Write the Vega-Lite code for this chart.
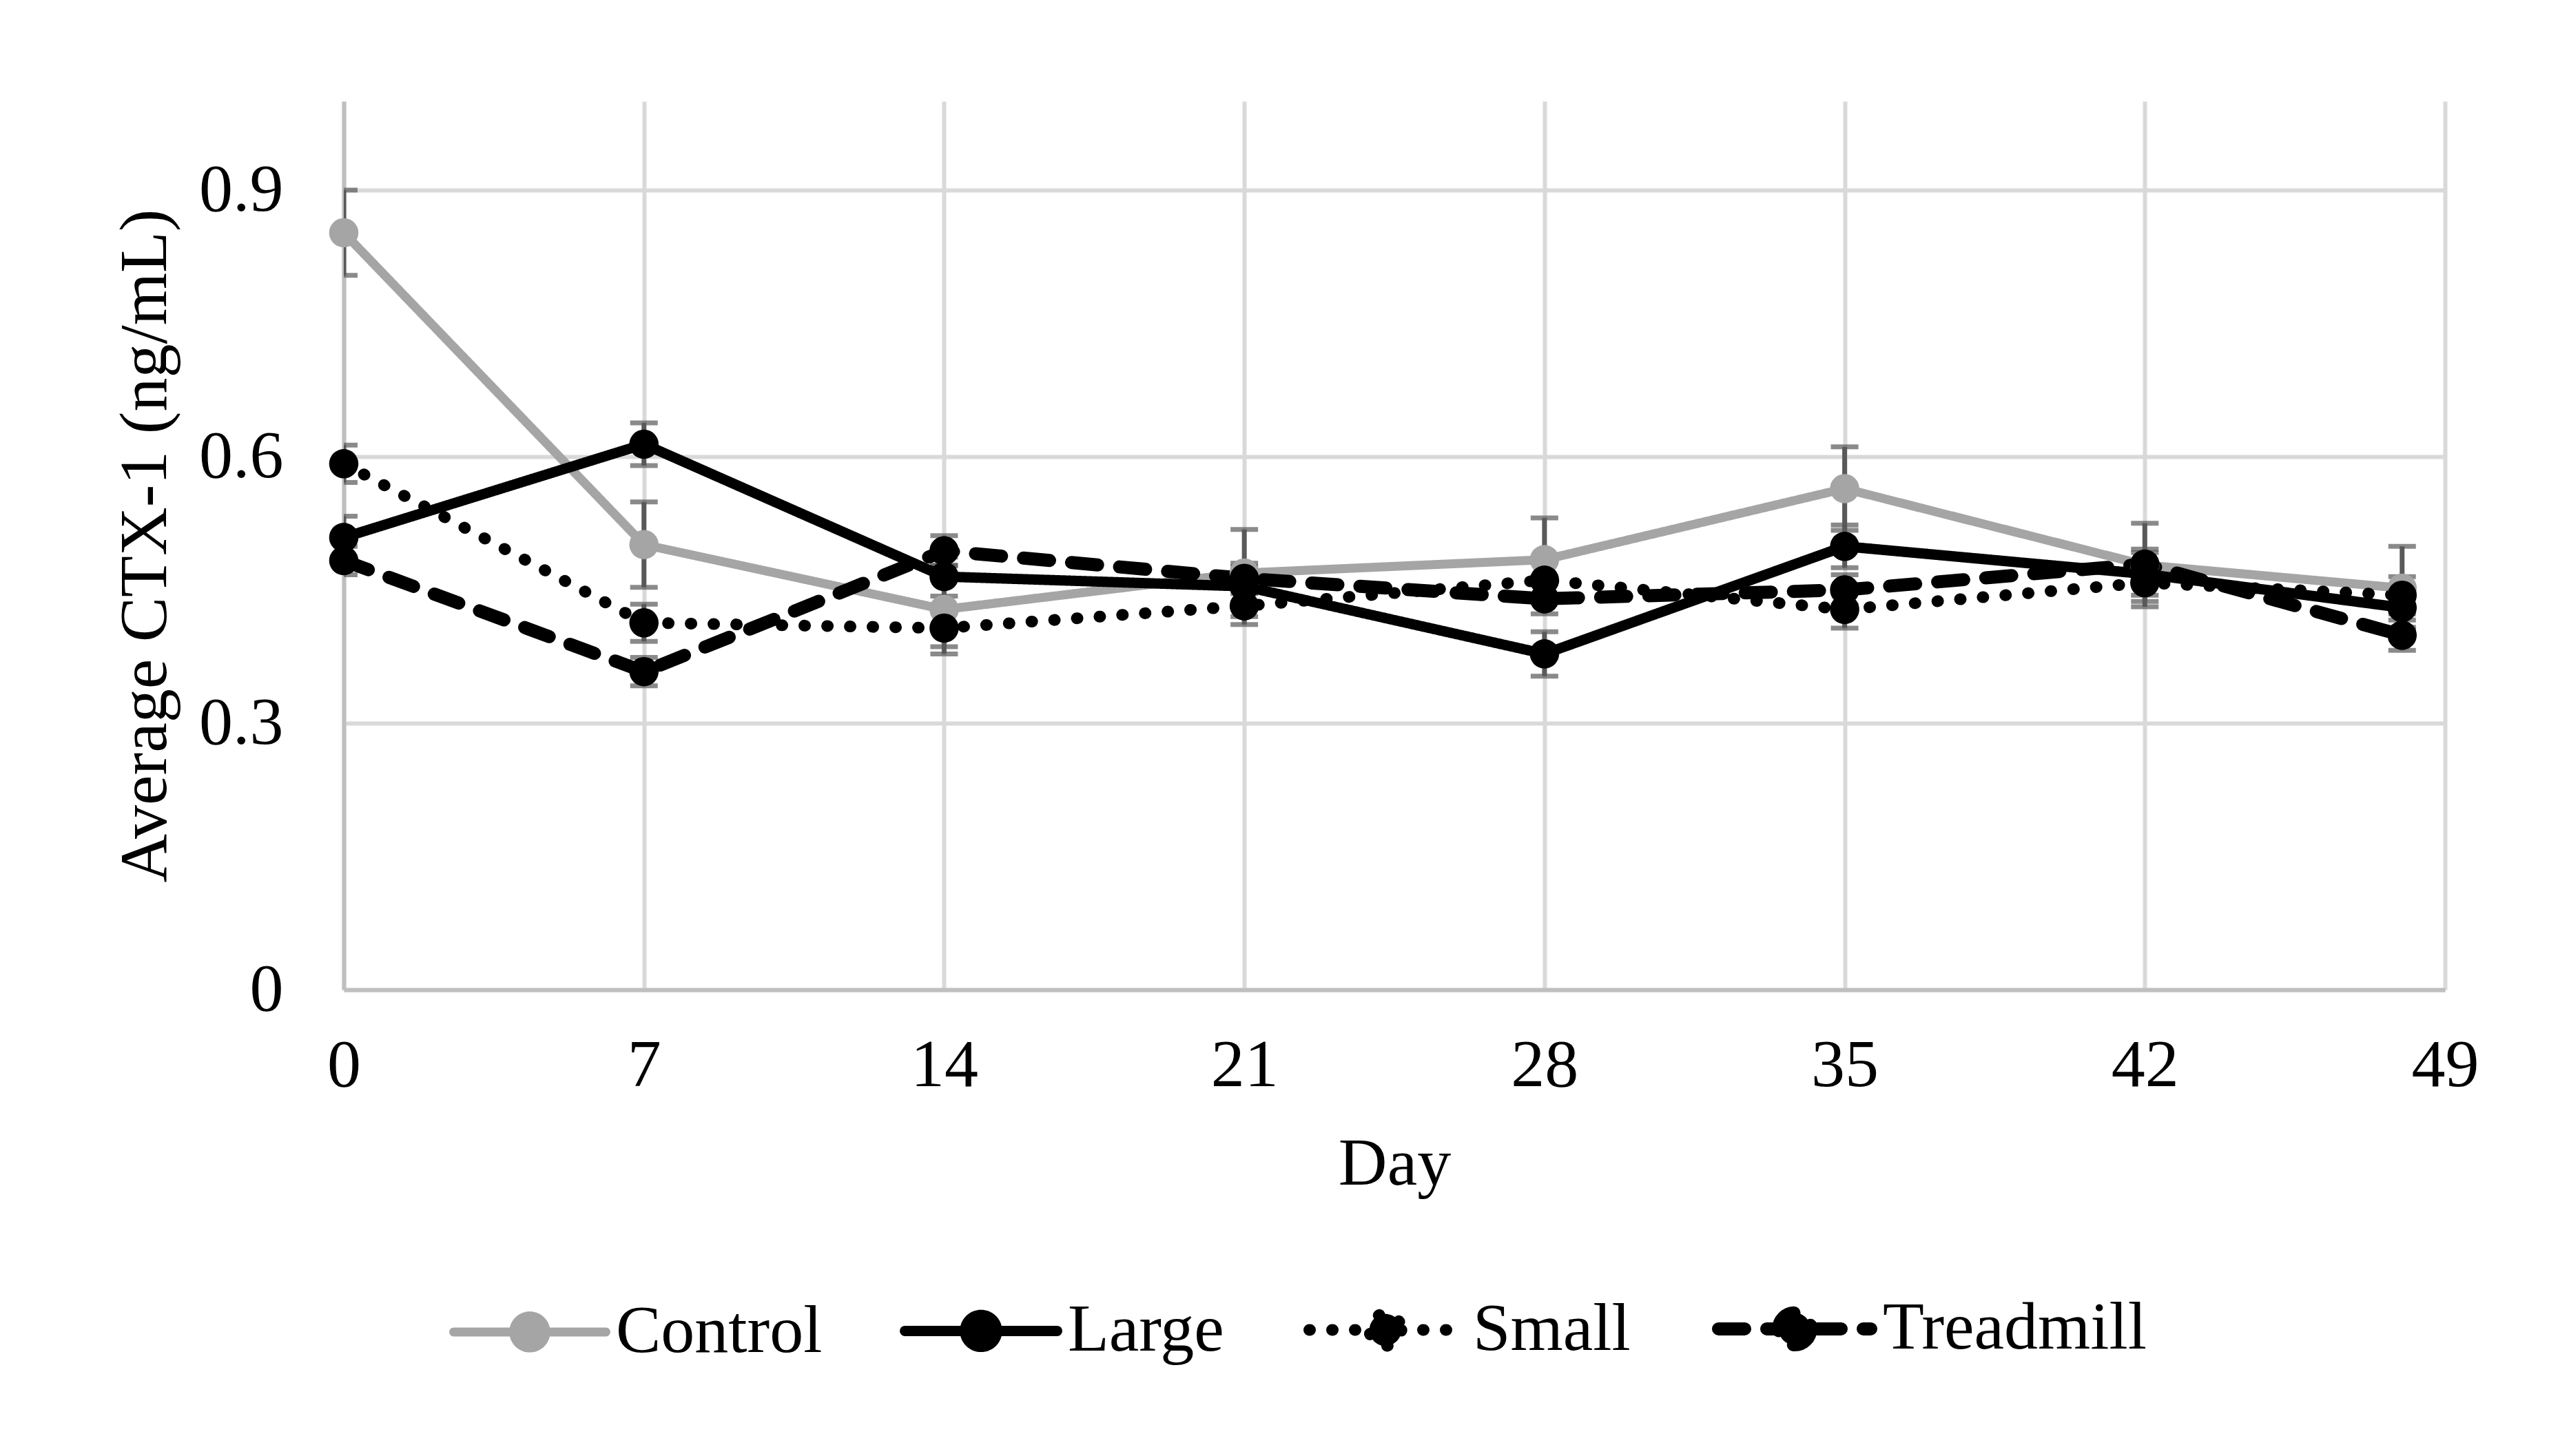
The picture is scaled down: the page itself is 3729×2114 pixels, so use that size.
{
  "$schema": "https://vega.github.io/schema/vega-lite/v6.json",
  "width": 3050,
  "height": 1290,
  "autosize": {"type": "none"},
  "padding": {"left": 499, "top": 147, "right": 180, "bottom": 677},
  "background": "white",
  "config": {
    "view": {"stroke": null},
    "font": "Liberation Serif",
    "axis": {
      "labelFont": "Liberation Serif",
      "titleFont": "Liberation Serif",
      "labelFontSize": 98,
      "titleFontSize": 98,
      "labelColor": "#000000",
      "titleColor": "#000000",
      "titleFontWeight": "normal",
      "gridColor": "#d9d9d9",
      "gridWidth": 6,
      "domainColor": "#bfbfbf",
      "domainWidth": 6,
      "ticks": false,
      "labelFlush": false
    },
    "legend": {
      "labelFont": "Liberation Serif",
      "labelFontSize": 98,
      "labelColor": "#000000",
      "labelLimit": 0,
      "symbolOpacity": 1
    }
  },
  "data": {
    "values": [
      {"series": "Control", "day": 0, "value": 0.852, "err": 0.048},
      {"series": "Control", "day": 7, "value": 0.501, "err": 0.048},
      {"series": "Control", "day": 14, "value": 0.428, "err": 0.050},
      {"series": "Control", "day": 21, "value": 0.469, "err": 0.049},
      {"series": "Control", "day": 28, "value": 0.484, "err": 0.047},
      {"series": "Control", "day": 35, "value": 0.564, "err": 0.047},
      {"series": "Control", "day": 42, "value": 0.478, "err": 0.047},
      {"series": "Control", "day": 48, "value": 0.452, "err": 0.047},
      {"series": "Large", "day": 0, "value": 0.509, "err": 0.024},
      {"series": "Large", "day": 7, "value": 0.614, "err": 0.024},
      {"series": "Large", "day": 14, "value": 0.465, "err": 0.022},
      {"series": "Large", "day": 21, "value": 0.454, "err": 0.022},
      {"series": "Large", "day": 28, "value": 0.378, "err": 0.025},
      {"series": "Large", "day": 35, "value": 0.499, "err": 0.024},
      {"series": "Large", "day": 42, "value": 0.468, "err": 0.024},
      {"series": "Large", "day": 48, "value": 0.430, "err": 0.022},
      {"series": "Small", "day": 0, "value": 0.592, "err": 0.021},
      {"series": "Small", "day": 7, "value": 0.413, "err": 0.021},
      {"series": "Small", "day": 14, "value": 0.407, "err": 0.021},
      {"series": "Small", "day": 21, "value": 0.432, "err": 0.021},
      {"series": "Small", "day": 28, "value": 0.461, "err": 0.021},
      {"series": "Small", "day": 35, "value": 0.428, "err": 0.021},
      {"series": "Small", "day": 42, "value": 0.458, "err": 0.021},
      {"series": "Small", "day": 48, "value": 0.444, "err": 0.021},
      {"series": "Treadmill", "day": 0, "value": 0.483, "err": 0.016},
      {"series": "Treadmill", "day": 7, "value": 0.358, "err": 0.016},
      {"series": "Treadmill", "day": 14, "value": 0.494, "err": 0.017},
      {"series": "Treadmill", "day": 21, "value": 0.463, "err": 0.017},
      {"series": "Treadmill", "day": 28, "value": 0.440, "err": 0.017},
      {"series": "Treadmill", "day": 35, "value": 0.450, "err": 0.017},
      {"series": "Treadmill", "day": 42, "value": 0.479, "err": 0.017},
      {"series": "Treadmill", "day": 48, "value": 0.399, "err": 0.017}
    ]
  },
  "encoding": {
    "x": {
      "field": "day",
      "type": "quantitative",
      "scale": {"domain": [0, 49], "nice": false, "zero": false},
      "axis": {
        "values": [0, 7, 14, 21, 28, 35, 42, 49],
        "title": "Day",
        "labelPadding": 62,
        "titleBaseline": "alphabetic",
        "titleY": 282
      }
    },
    "y": {
      "field": "value",
      "type": "quantitative",
      "scale": {"domain": [0, 1], "nice": false},
      "axis": {
        "values": [0, 0.3, 0.6, 0.9],
        "format": "~g",
        "title": "Average CTX-1 (ng/mL)",
        "labelPadding": 88,
        "titleBaseline": "alphabetic",
        "titleX": -259
      }
    }
  },
  "layer": [
    {
      "mark": {
        "type": "errorbar",
        "color": "#595959",
        "clip": true,
        "ticks": {"size": 40, "thickness": 7, "color": "#595959"},
        "rule": {"strokeWidth": 7, "color": "#595959"}
      },
      "encoding": {
        "yError": {"field": "err"}
      }
    },
    {
      "mark": {"type": "line", "strokeCap": "round", "strokeJoin": "round"},
      "encoding": {
        "color": {
          "field": "series",
          "type": "nominal",
          "scale": {"domain": ["Control", "Large", "Small", "Treadmill"], "range": ["#a5a5a5", "#000000", "#000000", "#000000"]},
          "legend": {
            "title": null,
            "orient": "none",
            "direction": "horizontal",
            "legendX": 153,
            "legendY": 1662,
            "padding": 0,
            "columnPadding": 89,
            "labelOffset": 8,
            "labelLimit": 0,
            "symbolSize": 48841,
            "symbolType": "M-1,0L1,0M0.21,0A0.21,0.21,0,1,1,-0.21,0A0.21,0.21,0,1,1,0.21,0Z",
            "encode": {"symbols": {"update": {"fill": {"scale": "color", "field": "value"}, "strokeCap": {"value": "round"}}}}
          }
        },
        "strokeDash": {
          "field": "series",
          "type": "nominal",
          "scale": {"domain": ["Control", "Large", "Small", "Treadmill"], "range": [[1, 0], [1, 0], [1, 32], [38, 32]]},
          "legend": {"title": null, "labelLimit": 0}
        },
        "strokeWidth": {
          "field": "series",
          "type": "nominal",
          "scale": {"domain": ["Control", "Large", "Small", "Treadmill"], "range": [13, 19, 15, 15]},
          "legend": {"title": null, "labelLimit": 0}
        }
      }
    },
    {
      "mark": {"type": "circle", "size": 1810, "opacity": 1},
      "encoding": {
        "color": {"field": "series", "type": "nominal", "legend": {"title": null, "labelLimit": 0}}
      }
    }
  ]
}
